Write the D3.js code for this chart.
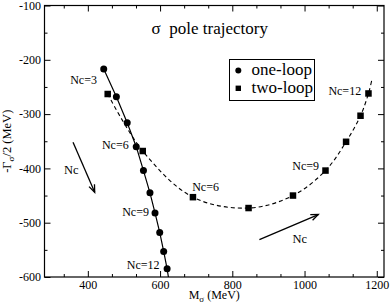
<!DOCTYPE html>
<html>
<head>
<meta charset="utf-8">
<script src="https://cdn.jsdelivr.net/npm/d3@7"></script>
<style>
  html, body { margin: 0; padding: 0; background: #fff; }
  svg { display: block; }
  text { font-family: "Liberation Serif", "Times New Roman", serif; fill: #000; }
</style>
</head>
<body>
<svg id="chart" width="390" height="307"></svg>
<script>
// ---- data ----
const oneLoopNc   = [3, 4, 5, 6, 7, 8, 9, 10, 11, 12];
const oneLoopM    = [444, 479, 509, 534, 554, 572, 586, 599, 610, 619.5];
const oneLoopG    = [-217, -268, -316, -360, -404, -445, -482, -518, -553, -585];
// line continues past the last marker (clipped at the frame)
const oneLoopLineExtM = [624];
const oneLoopLineExtG = [-604];

const twoLoopM    = [455, 552, 691, 845, 968, 1058, 1115, 1155, 1177];
const twoLoopG    = [-263, -368, -453, -473, -450, -404, -351, -303, -262];
const twoLoopLineExtM = [1186];
const twoLoopLineExtG = [-238];

const xTicks = [400, 600, 800, 1000, 1200];
const yTicks = [-600, -500, -400, -300, -200, -100];

const oneLoopLabelText = ["Nc=3", "Nc=6", "Nc=9", "Nc=12"];
const oneLoopLabelM    = [351, 439, 495, 508];
const oneLoopLabelG    = [-245, -364, -487, -586];
const twoLoopLabelText = ["Nc=6", "Nc=9", "Nc=12"];
const twoLoopLabelM    = [689, 966, 1066];
const twoLoopLabelG    = [-442, -403, -264];

const arrowFromM = [359, 875];
const arrowFromG = [-352, -531];
const arrowToM   = [419, 1038];
const arrowToG   = [-444, -485];
const arrowLabelM = [354, 987];
const arrowLabelG = [-402, -529];

const legendLabels = ["one-loop", "two-loop"];

// ---- layout ----
const W = 390, H = 307;
const L = 44.5, R = 384, T = 5.5, B = 277;

const svg = d3.select("#chart");
const x = d3.scaleLinear().domain([280, 1220]).range([L, R]);
const y = d3.scaleLinear().domain([-600, -100]).range([B, T]);

const xMinor = d3.range(280 + 160/3 - 0.001, 1220, 200/3).filter(v => !xTicks.some(t => Math.abs(t - v) < 1));
const yMinor = d3.range(-550, -100, 100);

svg.append("defs").append("clipPath").attr("id", "clip")
  .append("rect").attr("x", L).attr("y", T).attr("width", R - L).attr("height", B - T);

function styleAxis(g) {
  g.select(".domain").remove();
  g.selectAll(".tick line").attr("stroke", "#000").attr("stroke-width", 1);
  g.selectAll(".tick text").style("font-size", "12px").attr("fill", "#000")
    .style("font-family", '"Liberation Serif", serif');
}

// bottom axis
svg.append("g").attr("transform", `translate(0,${B})`)
  .call(d3.axisBottom(x).tickValues(xTicks).tickSizeInner(-6).tickSizeOuter(0).tickPadding(3).tickFormat(d => String(d)))
  .call(styleAxis);
svg.append("g").attr("transform", `translate(0,${B})`)
  .call(d3.axisBottom(x).tickValues(xMinor).tickSizeInner(-3).tickSizeOuter(0).tickFormat(""))
  .call(styleAxis);
// top axis
svg.append("g").attr("transform", `translate(0,${T})`)
  .call(d3.axisTop(x).tickValues(xTicks).tickSizeInner(-6).tickSizeOuter(0).tickFormat(""))
  .call(styleAxis);
svg.append("g").attr("transform", `translate(0,${T})`)
  .call(d3.axisTop(x).tickValues(xMinor).tickSizeInner(-3).tickSizeOuter(0).tickFormat(""))
  .call(styleAxis);
// left axis
svg.append("g").attr("transform", `translate(${L},0)`)
  .call(d3.axisLeft(y).tickValues(yTicks).tickSizeInner(-6).tickSizeOuter(0).tickPadding(3.5).tickFormat(d => String(d)))
  .call(styleAxis);
svg.append("g").attr("transform", `translate(${L},0)`)
  .call(d3.axisLeft(y).tickValues(yMinor).tickSizeInner(-3).tickSizeOuter(0).tickFormat(""))
  .call(styleAxis);
// right axis
svg.append("g").attr("transform", `translate(${R},0)`)
  .call(d3.axisRight(y).tickValues(yTicks).tickSizeInner(-6).tickSizeOuter(0).tickFormat(""))
  .call(styleAxis);
svg.append("g").attr("transform", `translate(${R},0)`)
  .call(d3.axisRight(y).tickValues(yMinor).tickSizeInner(-3).tickSizeOuter(0).tickFormat(""))
  .call(styleAxis);

// frame
svg.append("rect").attr("x", L).attr("y", T).attr("width", R - L).attr("height", B - T)
  .attr("fill", "none").attr("stroke", "#000").attr("stroke-width", 1.2);

// axis labels
const xl = svg.append("text").attr("x", (L + R) / 2).attr("y", 298.5).attr("text-anchor", "middle")
  .style("font-size", "12px");
xl.append("tspan").text("M");
xl.append("tspan").text("σ").style("font-size", "9px").attr("dy", 3.5);
xl.append("tspan").text(" (MeV)").attr("dy", -3.5);

const yl = svg.append("text").attr("transform", `translate(10.5,${(T + B) / 2}) rotate(-90)`)
  .attr("text-anchor", "middle").style("font-size", "12.5px");
yl.append("tspan").text("-Γ");
yl.append("tspan").text("σ").style("font-size", "9px").attr("dy", 3.5);
yl.append("tspan").text("/2 (MeV)").attr("dy", -3.5);

// title
svg.append("text").attr("x", 151.5).attr("y", 33.5).style("font-size", "17px").text("σ");
svg.append("text").attr("x", 169.3).attr("y", 33.5).style("font-size", "17px").text("pole trajectory");

const plot = svg.append("g").attr("clip-path", "url(#clip)");

// one-loop line
const oneLine = oneLoopM.map((m, i) => [m, oneLoopG[i]])
  .concat(oneLoopLineExtM.map((m, i) => [m, oneLoopLineExtG[i]]));
plot.append("path").datum(oneLine)
  .attr("d", d3.line().x(d => x(d[0])).y(d => y(d[1])))
  .attr("fill", "none").attr("stroke", "#000").attr("stroke-width", 1.2);

// two-loop line
const twoLine = twoLoopM.map((m, i) => [m, twoLoopG[i]])
  .concat(twoLoopLineExtM.map((m, i) => [m, twoLoopLineExtG[i]]));
plot.append("path").datum(twoLine)
  .attr("d", d3.line().curve(d3.curveCatmullRom.alpha(0.5)).x(d => x(d[0])).y(d => y(d[1])))
  .attr("fill", "none").attr("stroke", "#000").attr("stroke-width", 1.1)
  .attr("stroke-dasharray", "4,3");

// markers
plot.selectAll("circle.one").data(oneLoopM).enter().append("circle")
  .attr("class", "one")
  .attr("cx", d => x(d)).attr("cy", (d, i) => y(oneLoopG[i])).attr("r", 3.5).attr("fill", "#000");
const sq = 6.5;
plot.selectAll("rect.two").data(twoLoopM).enter().append("rect")
  .attr("class", "two")
  .attr("x", d => x(d) - sq / 2).attr("y", (d, i) => y(twoLoopG[i]) - sq / 2)
  .attr("width", sq).attr("height", sq).attr("fill", "#000");

// Nc labels
svg.selectAll("text.l1").data(oneLoopLabelText).enter().append("text").attr("class", "l1")
  .attr("x", (d, i) => x(oneLoopLabelM[i])).attr("y", (d, i) => y(oneLoopLabelG[i]))
  .style("font-size", "12px").text(d => d);
svg.selectAll("text.l2").data(twoLoopLabelText).enter().append("text").attr("class", "l2")
  .attr("x", (d, i) => x(twoLoopLabelM[i])).attr("y", (d, i) => y(twoLoopLabelG[i]))
  .style("font-size", "12px").text(d => d);

// arrows
arrowFromM.forEach((m, i) => {
  const x0 = x(m), y0 = y(arrowFromG[i]), x1 = x(arrowToM[i]), y1 = y(arrowToG[i]);
  const a = Math.atan2(y1 - y0, x1 - x0), hl = 8, ha = 0.38;
  svg.append("line").attr("x1", x0).attr("y1", y0).attr("x2", x1).attr("y2", y1)
    .attr("stroke", "#000").attr("stroke-width", 1.3);
  const p = d3.path();
  p.moveTo(x1 - hl * Math.cos(a - ha), y1 - hl * Math.sin(a - ha));
  p.lineTo(x1, y1);
  p.lineTo(x1 - hl * Math.cos(a + ha), y1 - hl * Math.sin(a + ha));
  svg.append("path").attr("d", p.toString()).attr("fill", "none")
    .attr("stroke", "#000").attr("stroke-width", 1.3);
  svg.append("text").attr("x", x(arrowLabelM[i])).attr("y", y(arrowLabelG[i]))
    .attr("text-anchor", "middle").attr("dy", "0.35em").style("font-size", "12.5px").text("Nc");
});

// legend
const lg = svg.append("g");
lg.append("rect").attr("x", 229.5).attr("y", 59.5).attr("width", 85).attr("height", 41)
  .attr("fill", "#fff").attr("stroke", "#000").attr("stroke-width", 1);
lg.append("circle").attr("cx", 238.3).attr("cy", 70.5).attr("r", 3).attr("fill", "#000");
lg.append("rect").attr("x", 238.3 - 2.7).attr("y", 88.3 - 2.7).attr("width", 5.4).attr("height", 5.4).attr("fill", "#000");
lg.selectAll("text").data(legendLabels).enter().append("text")
  .attr("x", 251.5).attr("y", (d, i) => 74.5 + i * 18).style("font-size", "17px").text(d => d);
</script>
</body>
</html>
